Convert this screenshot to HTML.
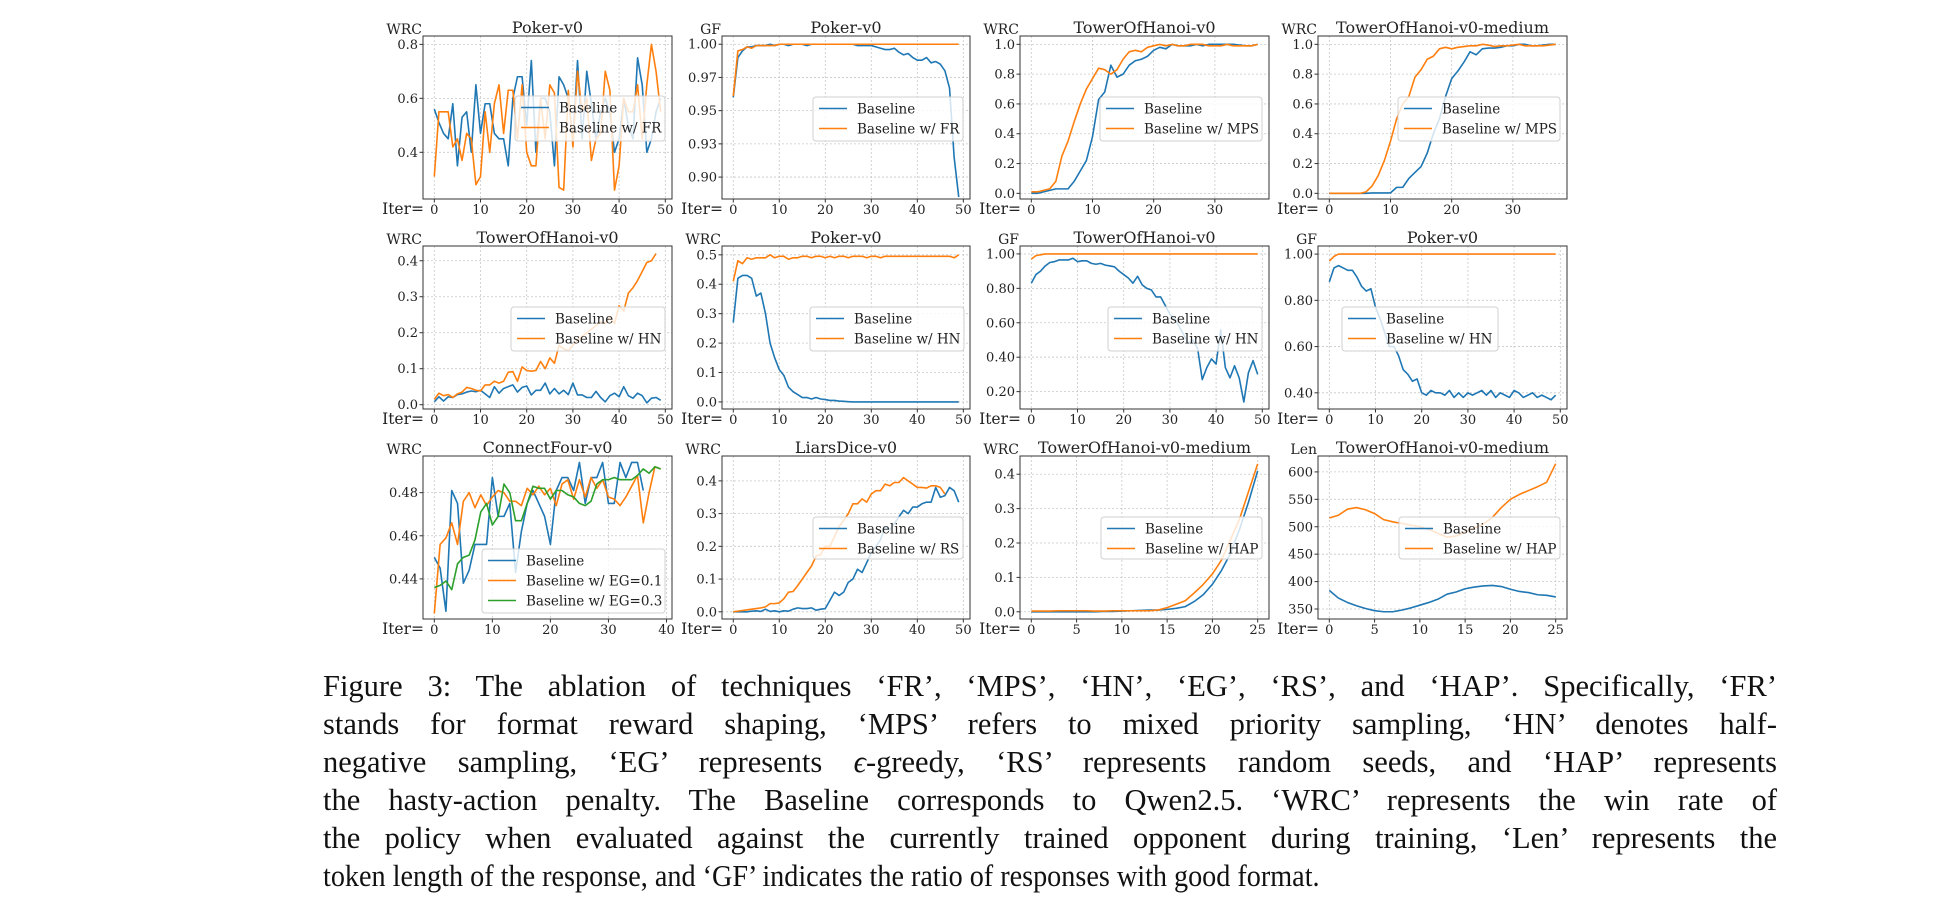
<!DOCTYPE html>
<html><head><meta charset="utf-8">
<style>
html,body{margin:0;padding:0;background:#fff;}
#wrap{position:relative;width:1958px;height:910px;overflow:hidden;background:#fff;}
svg text{font-family:"DejaVu Serif",serif;fill:#222;}
.cap{position:absolute;left:323px;width:1454px;font-family:"Liberation Serif",serif;font-size:30.5px;line-height:38px;color:#111;text-align:justify;text-align-last:justify;white-space:nowrap;}
.cap.last{text-align-last:left;transform:scaleX(0.924);transform-origin:0 0;}
</style></head>
<body>
<div id="wrap">
<svg id="fig" width="1958" height="910" xmlns="http://www.w3.org/2000/svg"></svg>
<div class="cap" style="top:667px">Figure 3: The ablation of techniques ‘FR’, ‘MPS’, ‘HN’, ‘EG’, ‘RS’, and ‘HAP’. Specifically, ‘FR’</div>
<div class="cap" style="top:705px">stands for format reward shaping, ‘MPS’ refers to mixed priority sampling, ‘HN’ denotes half-</div>
<div class="cap" style="top:743px">negative sampling, ‘EG’ represents <i>ϵ</i>-greedy, ‘RS’ represents random seeds, and ‘HAP’ represents</div>
<div class="cap" style="top:781px">the hasty-action penalty. The Baseline corresponds to Qwen2.5. ‘WRC’ represents the win rate of</div>
<div class="cap" style="top:819px">the policy when evaluated against the currently trained opponent during training, ‘Len’ represents the</div>
<div class="cap last" style="top:857px">token length of the response, and ‘GF’ indicates the ratio of responses with good format.</div>
</div>
<script>
// ---- data arrays (index = iteration) ----
const p1Base=[0.56,0.51,0.47,0.45,0.58,0.35,0.53,0.55,0.40,0.65,0.47,0.58,0.58,0.47,0.45,0.45,0.35,0.60,0.68,0.68,0.50,0.74,0.40,0.60,0.60,0.55,0.35,0.68,0.65,0.60,0.45,0.74,0.45,0.70,0.58,0.45,0.55,0.60,0.55,0.40,0.45,0.60,0.50,0.45,0.75,0.65,0.40,0.45,0.55,0.60];
const p1FR=[0.31,0.55,0.55,0.55,0.42,0.45,0.37,0.47,0.45,0.28,0.31,0.55,0.40,0.58,0.65,0.47,0.63,0.63,0.45,0.65,0.40,0.35,0.35,0.60,0.45,0.65,0.62,0.27,0.26,0.63,0.42,0.70,0.55,0.60,0.37,0.45,0.47,0.70,0.63,0.26,0.35,0.60,0.55,0.55,0.65,0.45,0.65,0.80,0.70,0.55];
const p2Base=[0.960,0.990,0.995,0.998,0.998,0.999,0.999,0.999,1.0,0.999,1.0,1.0,0.999,1.0,1.0,1.0,0.999,1.0,1.0,1.0,1.0,1.0,1.0,1.0,1.0,1.0,1.0,0.999,0.999,0.999,0.999,0.998,0.997,0.996,0.996,0.997,0.994,0.992,0.993,0.990,0.988,0.988,0.990,0.986,0.987,0.985,0.980,0.967,0.915,0.885];
const p2FR=[0.961,0.995,0.996,0.998,0.997,0.999,0.999,0.999,0.999,0.999,1.0,1.0,1.0,1.0,1.0,1.0,1.0,1.0,1.0,1.0,1.0,1.0,1.0,1.0,1.0,1.0,1.0,1.0,1.0,1.0,1.0,1.0,1.0,1.0,1.0,1.0,1.0,1.0,1.0,1.0,1.0,1.0,1.0,1.0,1.0,1.0,1.0,1.0,1.0,1.0];
const p3Base=[0.0,0.0,0.01,0.02,0.03,0.03,0.03,0.08,0.15,0.22,0.38,0.63,0.68,0.86,0.78,0.80,0.86,0.89,0.90,0.92,0.96,0.98,0.97,1.0,0.99,0.99,0.99,1.0,0.99,1.0,1.0,1.0,1.0,1.0,0.995,0.99,0.99,1.0];
const p3MPS=[0.01,0.01,0.02,0.03,0.08,0.25,0.35,0.48,0.60,0.70,0.77,0.84,0.83,0.80,0.83,0.90,0.95,0.96,0.95,0.98,0.99,1.0,0.99,1.0,0.99,0.99,1.0,1.0,1.0,0.99,0.99,0.99,1.0,0.99,0.99,0.99,0.99,1.0];
const p4Base=[0,0,0,0,0,0,0,0.003,0.003,0.003,0.003,0.04,0.04,0.10,0.14,0.18,0.27,0.40,0.50,0.65,0.77,0.82,0.88,0.95,0.93,0.97,0.975,0.975,0.98,0.99,0.99,1.0,1.0,0.99,0.99,0.995,1.0,1.0];
const p4MPS=[0,0,0,0,0,0,0.01,0.05,0.12,0.22,0.35,0.50,0.60,0.65,0.78,0.83,0.90,0.92,0.97,0.98,0.97,0.98,0.985,0.99,0.99,1.0,0.995,0.985,0.99,0.99,0.995,1.0,0.99,0.99,0.99,0.99,0.995,1.0];
const p5Base=[0.008,0.022,0.01,0.022,0.02,0.028,0.03,0.035,0.038,0.036,0.04,0.03,0.02,0.05,0.032,0.045,0.05,0.055,0.035,0.048,0.052,0.027,0.04,0.04,0.06,0.03,0.045,0.03,0.04,0.028,0.06,0.027,0.027,0.02,0.02,0.037,0.02,0.008,0.025,0.032,0.022,0.05,0.025,0.018,0.032,0.025,0.005,0.018,0.02,0.012];
const p5HN=[0.015,0.032,0.025,0.028,0.02,0.03,0.035,0.048,0.045,0.04,0.038,0.055,0.055,0.065,0.06,0.065,0.09,0.092,0.065,0.105,0.095,0.093,0.095,0.12,0.10,0.13,0.115,0.165,0.155,0.15,0.165,0.18,0.19,0.20,0.21,0.22,0.23,0.225,0.245,0.225,0.275,0.26,0.31,0.325,0.345,0.37,0.395,0.40,0.42];
const p6Base=[0.27,0.42,0.43,0.43,0.42,0.36,0.37,0.30,0.20,0.15,0.11,0.09,0.05,0.035,0.025,0.015,0.015,0.01,0.015,0.01,0.008,0.005,0.005,0.003,0.002,0.001,0,0,0,0,0,0,0,0,0,0,0,0,0,0,0,0,0,0,0,0,0,0,0,0];
const p6HN=[0.41,0.48,0.47,0.49,0.485,0.49,0.49,0.49,0.50,0.49,0.495,0.495,0.485,0.49,0.49,0.495,0.495,0.49,0.495,0.495,0.49,0.495,0.49,0.495,0.495,0.49,0.495,0.495,0.495,0.49,0.495,0.495,0.49,0.495,0.495,0.495,0.495,0.495,0.495,0.495,0.495,0.495,0.495,0.495,0.495,0.495,0.495,0.495,0.49,0.50];
const p7Base=[0.83,0.88,0.90,0.93,0.95,0.955,0.965,0.965,0.965,0.975,0.955,0.96,0.96,0.945,0.94,0.945,0.935,0.93,0.925,0.90,0.88,0.86,0.83,0.87,0.82,0.80,0.79,0.75,0.75,0.70,0.65,0.62,0.58,0.53,0.48,0.50,0.45,0.27,0.34,0.39,0.36,0.56,0.34,0.28,0.35,0.28,0.14,0.31,0.38,0.30];
const p7HN=[0.97,0.99,0.995,1.0,1.0,1.0,1.0,1.0,1.0,1.0,1.0,1.0,1.0,1.0,1.0,1.0,1.0,1.0,1.0,1.0,1.0,1.0,1.0,1.0,1.0,1.0,1.0,1.0,1.0,1.0,1.0,1.0,1.0,1.0,1.0,1.0,1.0,1.0,1.0,1.0,1.0,1.0,1.0,1.0,1.0,1.0,1.0,1.0,1.0,1.0];
const p8Base=[0.88,0.94,0.95,0.94,0.93,0.93,0.90,0.86,0.84,0.85,0.77,0.72,0.66,0.60,0.60,0.56,0.50,0.48,0.45,0.46,0.40,0.39,0.41,0.40,0.40,0.39,0.41,0.38,0.40,0.38,0.40,0.39,0.40,0.41,0.39,0.41,0.38,0.40,0.39,0.38,0.41,0.40,0.38,0.39,0.40,0.38,0.39,0.38,0.37,0.39];
const p8HN=[0.97,0.99,1.0,1.0,1.0,1.0,1.0,1.0,1.0,1.0,1.0,1.0,1.0,1.0,1.0,1.0,1.0,1.0,1.0,1.0,1.0,1.0,1.0,1.0,1.0,1.0,1.0,1.0,1.0,1.0,1.0,1.0,1.0,1.0,1.0,1.0,1.0,1.0,1.0,1.0,1.0,1.0,1.0,1.0,1.0,1.0,1.0,1.0,1.0,1.0];
const p9Base=[0.45,0.445,0.425,0.481,0.475,0.438,0.444,0.456,0.456,0.456,0.487,0.469,0.469,0.475,0.443,0.462,0.475,0.481,0.475,0.469,0.456,0.481,0.487,0.487,0.481,0.494,0.475,0.487,0.487,0.494,0.475,0.475,0.494,0.487,0.494,0.494,0.481];
const p9EG1=[0.424,0.456,0.459,0.466,0.456,0.476,0.48,0.473,0.479,0.474,0.478,0.481,0.48,0.476,0.476,0.474,0.482,0.479,0.483,0.479,0.482,0.474,0.484,0.486,0.477,0.486,0.478,0.487,0.482,0.486,0.478,0.477,0.474,0.478,0.483,0.488,0.466,0.48,0.492,0.491];
const p9EG3=[0.436,0.437,0.439,0.435,0.447,0.45,0.451,0.458,0.471,0.475,0.465,0.469,0.484,0.48,0.467,0.467,0.475,0.483,0.482,0.482,0.477,0.481,0.481,0.479,0.478,0.475,0.474,0.476,0.484,0.486,0.486,0.487,0.486,0.486,0.486,0.488,0.491,0.489,0.492,0.491];
const p10Base=[0,0,0,0,0.002,0.003,0.001,0.008,0.001,0.003,0,0.003,0.002,0.008,0.012,0.01,0.01,0.012,0.005,0.008,0.01,0.035,0.06,0.05,0.06,0.09,0.10,0.13,0.12,0.15,0.18,0.20,0.22,0.26,0.25,0.27,0.29,0.31,0.30,0.32,0.32,0.33,0.335,0.335,0.38,0.35,0.355,0.38,0.37,0.335];
const p10RS=[0,0.002,0.004,0.006,0.008,0.01,0.012,0.015,0.025,0.025,0.027,0.04,0.06,0.062,0.08,0.10,0.12,0.14,0.17,0.175,0.20,0.20,0.23,0.26,0.28,0.30,0.33,0.33,0.345,0.335,0.36,0.37,0.37,0.39,0.385,0.395,0.395,0.41,0.40,0.39,0.38,0.38,0.378,0.385,0.385,0.38,0.36];
const p11Base=[0,0,0,0,0,0,0,0,0.001,0.001,0.002,0.003,0.004,0.005,0.005,0.007,0.01,0.015,0.03,0.05,0.08,0.12,0.17,0.24,0.32,0.41];
const p11HAP=[0.002,0.002,0.002,0.003,0.003,0.003,0.003,0.002,0.002,0.003,0.003,0.003,0.003,0.003,0.005,0.012,0.022,0.032,0.055,0.08,0.11,0.15,0.21,0.27,0.35,0.43];
const p12Base=[384,370,362,356,351,347,345,345,348,352,357,362,368,377,381,387,390,392,393,391,386,382,380,376,375,372];
const p12HAP=[516,521,532,535,531,524,513,509,506,503,500,495,488,481,483,490,498,505,517,535,550,559,566,573,581,615];

const p1Ticks=[0.4,0.6,0.8], p1TickLabels=["0.4","0.6","0.8"];
const p2Ticks=[0.9,0.925,0.95,0.975,1.0], p2TickLabels=["0.90","0.93","0.95","0.97","1.00"];
const p3Ticks=[0,0.2,0.4,0.6,0.8,1.0], p3TickLabels=["0.0","0.2","0.4","0.6","0.8","1.0"];
const p5Ticks=[0,0.1,0.2,0.3,0.4], p5TickLabels=["0.0","0.1","0.2","0.3","0.4"];
const p6Ticks=[0,0.1,0.2,0.3,0.4,0.5], p6TickLabels=["0.0","0.1","0.2","0.3","0.4","0.5"];
const p7Ticks=[0.2,0.4,0.6,0.8,1.0], p7TickLabels=["0.20","0.40","0.60","0.80","1.00"];
const p8Ticks=[0.4,0.6,0.8,1.0], p8TickLabels=["0.40","0.60","0.80","1.00"];
const p9Ticks=[0.44,0.46,0.48], p9TickLabels=["0.44","0.46","0.48"];
const p10Ticks=[0,0.1,0.2,0.3,0.4], p10TickLabels=["0.0","0.1","0.2","0.3","0.4"];
const p12Ticks=[350,400,450,500,550,600], p12TickLabels=["350","400","450","500","550","600"];
const xTicks50=[0,10,20,30,40,50], xTicks30=[0,10,20,30], xTicks40=[0,10,20,30,40], xTicks25=[0,5,10,15,20,25];

const BLUE="#1f77b4", ORANGE="#ff7f0e", GREEN="#2ca02c";
const COLS=[[423,672],[722,970],[1020,1269],[1318,1567]];
const ROWS=[[36,199],[246,409],[456,619]];

const panels=[
 {name:"poker-fr-wrc",c:0,r:0,title:"Poker-v0",yl:"WRC",n:49,ylim:[0.227,0.831],yt:p1Ticks,ytl:p1TickLabels,xt:xTicks50,
  s:[[p1Base,BLUE,"Baseline"],[p1FR,ORANGE,"Baseline w/ FR"]],lg:[515,96,150,45]},
 {name:"poker-fr-gf",c:1,r:0,title:"Poker-v0",yl:"GF",n:49,ylim:[0.8835,1.0062],yt:p2Ticks,ytl:p2TickLabels,xt:xTicks50,
  s:[[p2Base,BLUE,"Baseline"],[p2FR,ORANGE,"Baseline w/ FR"]],lg:[813,97,150,44]},
 {name:"hanoi-mps-wrc",c:2,r:0,title:"TowerOfHanoi-v0",yl:"WRC",n:37,ylim:[-0.038,1.056],yt:p3Ticks,ytl:p3TickLabels,xt:xTicks30,
  s:[[p3Base,BLUE,"Baseline"],[p3MPS,ORANGE,"Baseline w/ MPS"]],lg:[1100,97,162,44]},
 {name:"hanoi-medium-mps-wrc",c:3,r:0,title:"TowerOfHanoi-v0-medium",yl:"WRC",n:37,ylim:[-0.038,1.056],yt:p3Ticks,ytl:p3TickLabels,xt:xTicks30,
  s:[[p4Base,BLUE,"Baseline"],[p4MPS,ORANGE,"Baseline w/ MPS"]],lg:[1398,97,162,44]},
 {name:"hanoi-hn-wrc",c:0,r:1,title:"TowerOfHanoi-v0",yl:"WRC",n:49,ylim:[-0.012,0.441],yt:p5Ticks,ytl:p5TickLabels,xt:xTicks50,
  s:[[p5Base,BLUE,"Baseline"],[p5HN,ORANGE,"Baseline w/ HN"]],lg:[511,307,154,44]},
 {name:"poker-hn-wrc",c:1,r:1,title:"Poker-v0",yl:"WRC",n:49,ylim:[-0.024,0.53],yt:p6Ticks,ytl:p6TickLabels,xt:xTicks50,
  s:[[p6Base,BLUE,"Baseline"],[p6HN,ORANGE,"Baseline w/ HN"]],lg:[810,307,154,44]},
 {name:"hanoi-hn-gf",c:2,r:1,title:"TowerOfHanoi-v0",yl:"GF",n:49,ylim:[0.099,1.046],yt:p7Ticks,ytl:p7TickLabels,xt:xTicks50,
  s:[[p7Base,BLUE,"Baseline"],[p7HN,ORANGE,"Baseline w/ HN"]],lg:[1108,307,154,44]},
 {name:"poker-hn-gf",c:3,r:1,title:"Poker-v0",yl:"GF",n:49,ylim:[0.33,1.035],yt:p8Ticks,ytl:p8TickLabels,xt:xTicks50,
  s:[[p8Base,BLUE,"Baseline"],[p8HN,ORANGE,"Baseline w/ HN"]],lg:[1342,307,156,44]},
 {name:"connectfour-eg-wrc",c:0,r:2,title:"ConnectFour-v0",yl:"WRC",n:39,ylim:[0.4214,0.497],yt:p9Ticks,ytl:p9TickLabels,xt:xTicks40,
  s:[[p9Base,BLUE,"Baseline"],[p9EG1,ORANGE,"Baseline w/ EG=0.1"],[p9EG3,GREEN,"Baseline w/ EG=0.3"]],lg:[482,549,183,64]},
 {name:"liarsdice-rs-wrc",c:1,r:2,title:"LiarsDice-v0",yl:"WRC",n:49,ylim:[-0.022,0.476],yt:p10Ticks,ytl:p10TickLabels,xt:xTicks50,
  s:[[p10Base,BLUE,"Baseline"],[p10RS,ORANGE,"Baseline w/ RS"]],lg:[813,517,150,42]},
 {name:"hanoi-medium-hap-wrc",c:2,r:2,title:"TowerOfHanoi-v0-medium",yl:"WRC",n:25,ylim:[-0.021,0.453],yt:p10Ticks,ytl:p10TickLabels,xt:xTicks25,
  s:[[p11Base,BLUE,"Baseline"],[p11HAP,ORANGE,"Baseline w/ HAP"]],lg:[1101,517,161,42]},
 {name:"hanoi-medium-hap-len",c:3,r:2,title:"TowerOfHanoi-v0-medium",yl:"Len",n:25,ylim:[331.8,629],yt:p12Ticks,ytl:p12TickLabels,xt:xTicks25,
  s:[[p12Base,BLUE,"Baseline"],[p12HAP,ORANGE,"Baseline w/ HAP"]],lg:[1399,517,161,42]}
];

const NS="http://www.w3.org/2000/svg";
const fig=document.getElementById("fig");
function mk(tag,attrs,parent){const e=document.createElementNS(NS,tag);for(const k in attrs)e.setAttribute(k,attrs[k]);(parent||fig).appendChild(e);return e;}

panels.forEach(p=>{
  const [L,R]=COLS[p.c],[T,B]=ROWS[p.r];
  const x0=-0.05*p.n,x1=p.n*1.05;
  const sx=v=>L+(v-x0)/(x1-x0)*(R-L);
  const sy=v=>B-(v-p.ylim[0])/(p.ylim[1]-p.ylim[0])*(B-T);
  const g=mk("g",{});
  
  
  p.xt.forEach(t=>{const x=sx(t);mk("line",{x1:x,x2:x,y1:T,y2:B,stroke:"#c8c8c8","stroke-width":0.8,"stroke-dasharray":"2,2"},g);});
  p.yt.forEach(t=>{const y=sy(t);mk("line",{x1:L,x2:R,y1:y,y2:y,stroke:"#c8c8c8","stroke-width":0.8,"stroke-dasharray":"2,2"},g);});
  p.s.forEach(([d,col,lab])=>{
    const pts=d.map((v,i)=>sx(i).toFixed(2)+","+sy(v).toFixed(2)).join(" ");
    const pl=mk("polyline",{points:pts,fill:"none",stroke:col,"stroke-width":1.6,"stroke-linejoin":"round"},g);
    
    
  });
  const fr=mk("rect",{x:L,y:T,width:R-L,height:B-T,fill:"none",stroke:"#333","stroke-width":1},g);
  
  
  p.xt.forEach(t=>{const x=sx(t);mk("line",{x1:x,x2:x,y1:B,y2:B+3.5,stroke:"#333","stroke-width":1},g);
    const tx=mk("text",{x:x,y:B+15,"font-size":13,"text-anchor":"middle"},g);tx.textContent=t;
    
    });
  const it=mk("text",{x:L+1,y:B+15,"font-size":15.5,"text-anchor":"end","font-family":"Liberation Serif, serif"},g);
  it.textContent="Iter=";
  
  
  p.yt.forEach((t,i)=>{const y=sy(t);mk("line",{x1:L-3.5,x2:L,y1:y,y2:y,stroke:"#333","stroke-width":1},g);
    const ty=mk("text",{x:L-5,y:y+4.5,"font-size":13,"text-anchor":"end"},g);ty.textContent=p.ytl[i];
    
    });
  const yl=mk("text",{x:L-1,y:T-2,"font-size":14,"text-anchor":"end","font-family":"Liberation Serif, serif"},g);
  yl.textContent=p.yl;
  
  
  const ti=mk("text",{x:(L+R)/2,y:T-3,"font-size":16,"text-anchor":"middle"},g);
  ti.textContent=p.title;
  
  
  const [lx,ly,lw,lh]=p.lg;
  const lgG=mk("g",{},g);
  
  
  mk("rect",{x:lx,y:ly,width:lw,height:lh,rx:3,fill:"#fff","fill-opacity":0.8,stroke:"#d0d0d0","stroke-width":1},lgG);
  p.s.forEach(([d,col,lab],k)=>{
    const ey=ly+11.5+k*20;
    mk("line",{x1:lx+6,x2:lx+34,y1:ey,y2:ey,stroke:col,"stroke-width":1.6},lgG);
    const lt=mk("text",{x:lx+44,y:ey+5,"font-size":13.5},lgG);lt.textContent=lab;
    
    
  });
});
</script>
</body></html>
